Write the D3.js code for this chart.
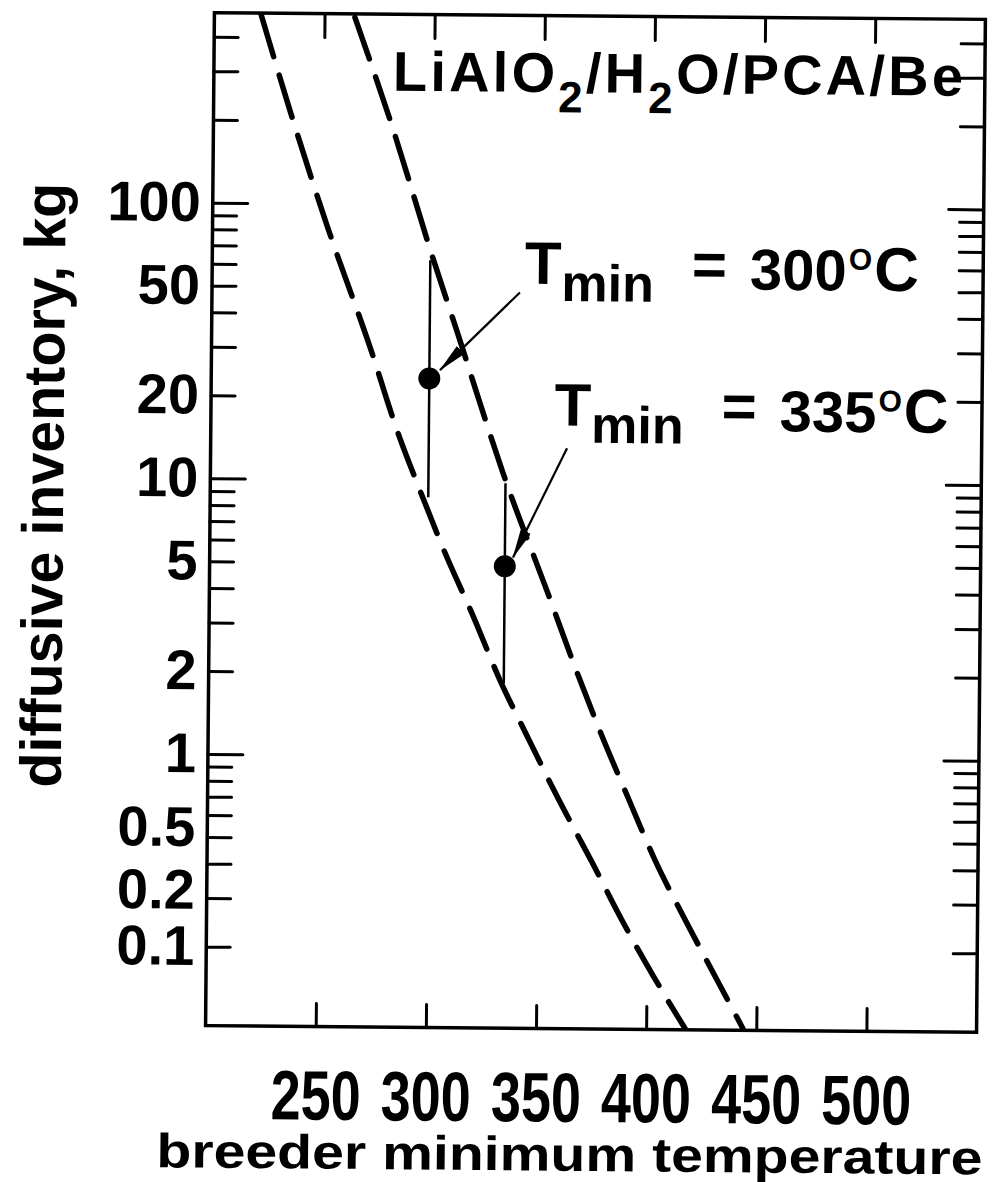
<!DOCTYPE html>
<html><head><meta charset="utf-8">
<script src="https://cdn.jsdelivr.net/npm/d3@7"></script>
<style>body{margin:0;background:#fff}</style>
</head><body>
<script>
const width = 998, height = 1182;
const plotL = 210, plotR = 981, plotT = 16, plotB = 1029;

// data
const tempTicks = [250, 300, 350, 400, 450, 500];
const invLabels = ["100", "50", "20", "10", "5", "2", "1", "0.5", "0.2", "0.1"];
const invLabelAt = [100, 50, 20, 10, 5, 2, 1, 0.54, 0.32, 0.2];
const lowerT  = [221.2, 234.7, 252.4, 272.0, 285.0, 295.2, 307.7, 319.3, 332.3, 344.8, 359.1, 374.8, 388.6, 403.8, 417.6];
const lowerKg = [483, 217, 81.4, 30.2, 14.8, 9.18, 5.26, 3.30, 1.89, 1.19, 0.708, 0.416, 0.257, 0.158, 0.1047];
const upperT  = [263.8, 281.0, 300.2, 312.0, 322.1, 332.8, 353.7, 366.3, 377.8, 390.8, 403.4, 418.1, 432.8, 443.9];
const upperKg = [475, 193, 63.8, 33.6, 19.1, 10.7, 3.92, 2.12, 1.25, 0.718, 0.425, 0.252, 0.153, 0.105];
const barT = [299, 334], barLow = [8.67, 1.84], barHigh = [62.8, 9.8], barMid = [23.4, 4.9];
const noteText = ["300", "335"], noteT = [342, 356], noteKg = [52, 15.95];
const arrowFromT = [339.8, 361.8], arrowFromKg = [48.3, 13.2];
const arrowToT = [303.8, 337.7], arrowToKg = [25.1, 5.28];

const font = "'Liberation Sans', Arial, sans-serif";
const svg = d3.select("body").append("svg").attr("width", width).attr("height", height)
  .style("background", "#fff");
const g = svg.append("g").attr("transform", "rotate(0.5,595,520)");

const x = d3.scaleLinear().domain([200, 550]).range([plotL, plotR]);
const y = d3.scaleLog().domain([0.1, 100]).range([1033, 206]);

const defs = svg.append("defs");
defs.append("clipPath").attr("id", "plot")
  .append("rect").attr("x", plotL).attr("y", plotT).attr("width", plotR - plotL).attr("height", plotB - plotT);
defs.append("marker").attr("id", "head")
  .attr("markerUnits", "userSpaceOnUse").attr("viewBox", "0 0 30 11")
  .attr("markerWidth", 30).attr("markerHeight", 11).attr("refX", 29).attr("refY", 5.5)
  .attr("orient", "auto")
  .append("path").attr("d", "M0,0 L30,5.5 L0,11 Z").attr("fill", "#000");

// tick values
const minor = [];
[0.1, 1, 10, 100].forEach(d => [2, 3, 4, 5, 6, 7, 8, 9].forEach(k => minor.push(d * k)));
const minorTicks = minor.filter(v => v < 480);
const majorTicks = [1, 10, 100];

function styleAxis(sel) {
  sel.select(".domain").remove();
  sel.selectAll(".tick line").attr("stroke", "#000").attr("stroke-width", 3).attr("stroke-linecap", "round");
}

g.append("g").attr("transform", `translate(${plotL},0)`)
  .call(d3.axisLeft(y).tickValues(minorTicks).tickSize(-24).tickFormat("")).call(styleAxis);
g.append("g").attr("transform", `translate(${plotL},0)`)
  .call(d3.axisLeft(y).tickValues(majorTicks).tickSize(-35).tickFormat("")).call(styleAxis);
g.append("g").attr("transform", `translate(${plotR},0)`)
  .call(d3.axisRight(y).tickValues(minorTicks).tickSize(-24).tickFormat("")).call(styleAxis);
g.append("g").attr("transform", `translate(${plotR},0)`)
  .call(d3.axisRight(y).tickValues(majorTicks).tickSize(-35).tickFormat("")).call(styleAxis);
g.append("g").attr("transform", `translate(0,${plotT})`)
  .call(d3.axisTop(x).tickValues(tempTicks).tickSize(-24).tickFormat("")).call(styleAxis);

const xAxis = g.append("g").attr("transform", `translate(0,${plotB})`)
  .call(d3.axisBottom(x).tickValues(tempTicks).tickSize(-23)).call(styleAxis);
xAxis.selectAll(".tick text").attr("y", 93).attr("dy", 0)
  .attr("font-family", font).attr("font-weight", "bold").attr("font-size", 70)
  .attr("fill", "#000").attr("textLength", 90).attr("lengthAdjust", "spacingAndGlyphs");

const yLab = g.append("g").attr("transform", `translate(${plotL},0)`)
  .call(d3.axisLeft(y).tickValues(invLabelAt).tickSize(0).tickPadding(12)
    .tickFormat((d, i) => invLabels[i]));
yLab.select(".domain").remove();
yLab.selectAll(".tick text").attr("font-family", font).attr("font-weight", "bold")
  .attr("font-size", 56).attr("fill", "#000");

// frame
g.append("rect").attr("x", plotL).attr("y", plotT).attr("width", plotR - plotL).attr("height", plotB - plotT)
  .attr("fill", "none").attr("stroke", "#000").attr("stroke-width", 3.5);

// dashed curves
const line = d3.line().x(d => x(d[0])).y(d => y(d[1])).curve(d3.curveMonotoneX);
const curves = [d3.zip(lowerT, lowerKg), d3.zip(upperT, upperKg)];
g.append("g").attr("clip-path", "url(#plot)").selectAll("path").data(curves).join("path")
  .attr("d", line).attr("fill", "none").attr("stroke", "#000").attr("stroke-width", 5.5)
  .attr("stroke-linecap", "round").attr("stroke-dasharray", "44,19");

// range bars and points
g.selectAll(".bar").data(barT).join("line").attr("class", "bar")
  .attr("x1", d => x(d)).attr("x2", d => x(d))
  .attr("y1", (d, i) => y(barHigh[i])).attr("y2", (d, i) => y(barLow[i]))
  .attr("stroke", "#000").attr("stroke-width", 2.5);
g.selectAll(".pt").data(barT).join("circle").attr("class", "pt")
  .attr("cx", d => x(d)).attr("cy", (d, i) => y(barMid[i])).attr("r", 11).attr("fill", "#000");

// arrows
g.selectAll(".arrow").data(arrowFromT).join("line").attr("class", "arrow")
  .attr("x1", d => x(d)).attr("y1", (d, i) => y(arrowFromKg[i]))
  .attr("x2", (d, i) => x(arrowToT[i])).attr("y2", (d, i) => y(arrowToKg[i]))
  .attr("stroke", "#000").attr("stroke-width", 2.2).attr("marker-end", "url(#head)");

// T_min notes
noteText.forEach((t, i) => {
  const x0 = x(noteT[i]), y0 = y(noteKg[i]);
  const txt = g.append("text").attr("x", x0).attr("y", y0)
    .attr("font-family", font).attr("font-weight", "bold").attr("fill", "#000").attr("font-size", 60);
  txt.append("tspan").text("T");
  txt.append("tspan").attr("font-size", 52).attr("dy", 17).text("min");
  txt.append("tspan").attr("x", x0 + 167).attr("dy", -17).text("=");
  txt.append("tspan").attr("x", x0 + 225).attr("dy", 4).attr("font-size", 58).text(t);
  txt.append("tspan").attr("font-size", 30).attr("dx", 2).attr("dy", -21).text("O");
  txt.append("tspan").attr("dx", 2).attr("dy", 21).attr("font-size", 62).text("C");
});

// system label
const sys = g.append("text").attr("x", x(281.3)).attr("y", y(258))
  .attr("font-family", font).attr("font-weight", "bold").attr("font-size", 56)
  .attr("letter-spacing", 3.2).attr("fill", "#000");
sys.append("tspan").text("LiAlO");
sys.append("tspan").attr("font-size", 44).attr("dy", 20).text("2");
sys.append("tspan").attr("dy", -20).text("/H");
sys.append("tspan").attr("font-size", 44).attr("dy", 20).text("2");
sys.append("tspan").attr("dy", -20).text("O/PCA/Be");

// axis titles
g.append("text").attr("x", 162).attr("y", 1171)
  .attr("font-family", font).attr("font-weight", "bold").attr("font-size", 48).attr("fill", "#000")
  .attr("textLength", 826).attr("lengthAdjust", "spacingAndGlyphs")
  .text("breeder minimum temperature");
g.append("text").attr("transform", "translate(63,490) rotate(-90)").attr("text-anchor", "middle")
  .attr("font-family", font).attr("font-weight", "bold").attr("font-size", 58).attr("fill", "#000")
  .attr("textLength", 605).attr("lengthAdjust", "spacingAndGlyphs")
  .text("diffusive inventory, kg");
</script>
</body></html>
